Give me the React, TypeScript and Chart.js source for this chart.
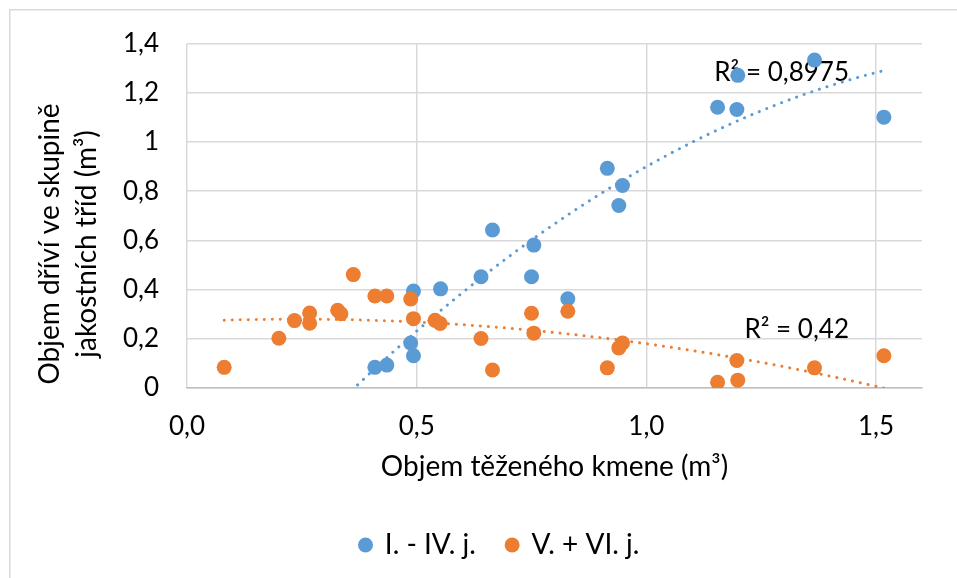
import React, { useEffect, useRef } from 'react';
import { Chart, registerables } from 'chart.js';

Chart.register(...registerables);

// ---- Data ----
const seriesNames = ['I. - IV. j.', 'V. + VI. j.'];

const blueX = [0.409, 0.435, 0.487, 0.493, 0.493, 0.552, 0.640, 0.665, 0.750, 0.755, 0.829, 0.915, 0.940, 0.948, 1.155, 1.197, 1.199, 1.366, 1.517];
const blueY = [0.084, 0.093, 0.183, 0.131, 0.394, 0.403, 0.452, 0.642, 0.452, 0.581, 0.363, 0.893, 0.742, 0.823, 1.141, 1.132, 1.271, 1.333, 1.101];

const orangeX = [0.081, 0.200, 0.234, 0.267, 0.267, 0.328, 0.335, 0.362, 0.409, 0.435, 0.487, 0.493, 0.540, 0.551, 0.640, 0.665, 0.750, 0.755, 0.829, 0.915, 0.940, 0.948, 1.155, 1.197, 1.199, 1.366, 1.517];
const orangeY = [0.084, 0.202, 0.274, 0.305, 0.263, 0.316, 0.302, 0.461, 0.374, 0.374, 0.362, 0.282, 0.275, 0.262, 0.201, 0.073, 0.304, 0.223, 0.312, 0.082, 0.163, 0.183, 0.023, 0.112, 0.032, 0.082, 0.131];

const r2Labels = ['R\u00B2 = 0,8975', 'R\u00B2 = 0,42'];

const xTickValues = [0, 0.5, 1.0, 1.5];
const xTickLabels = ['0,0', '0,5', '1,0', '1,5'];
const yTickValues = [0, 0.2, 0.4, 0.6, 0.8, 1.0, 1.2, 1.4];
const yTickLabels = ['0', '0,2', '0,4', '0,6', '0,8', '1', '1,2', '1,4'];

const xTitle = 'Objem těženého kmene (m\u00B3)';
const yTitleLines = ['Objem dříví ve skupině', 'jakostních tříd (m\u00B3)'];

// ---- Styles ----
const BLUE = '#5B9BD5';
const ORANGE = '#ED7D31';
const FONT = 'Lato';
const FS_TICK = 26;
const FS_TITLE = 28;

// quadratic least-squares fit (Excel polynomial trendline, order 2)
function polyFit2(xs: number[], ys: number[]) {
  let s0 = 0, s1 = 0, s2 = 0, s3 = 0, s4 = 0, t0 = 0, t1 = 0, t2 = 0;
  for (let i = 0; i < xs.length; i++) {
    const x = xs[i], y = ys[i];
    s0 += 1; s1 += x; s2 += x * x; s3 += x * x * x; s4 += x * x * x * x;
    t0 += y; t1 += x * y; t2 += x * x * y;
  }
  const M = [
    [s0, s1, s2, t0],
    [s1, s2, s3, t1],
    [s2, s3, s4, t2],
  ];
  for (let c = 0; c < 3; c++) {
    let p = c;
    for (let r = c + 1; r < 3; r++) if (Math.abs(M[r][c]) > Math.abs(M[p][c])) p = r;
    [M[c], M[p]] = [M[p], M[c]];
    for (let r = 0; r < 3; r++) {
      if (r === c) continue;
      const f = M[r][c] / M[c][c];
      for (let k = c; k < 4; k++) M[r][k] -= f * M[c][k];
    }
  }
  return [M[0][3] / M[0][0], M[1][3] / M[1][1], M[2][3] / M[2][2]];
}

function trendPoints(xs: number[], ys: number[], x0: number, x1: number) {
  const [a, b, c] = polyFit2(xs, ys);
  const pts: { x: number; y: number }[] = [];
  const n = 120;
  for (let i = 0; i <= n; i++) {
    const x = x0 + ((x1 - x0) * i) / n;
    pts.push({ x, y: a + b * x + c * x * x });
  }
  return pts;
}

const allMinX = Math.min(...blueX, ...orangeX);

const decorPlugin = {
  id: 'decor',
  beforeDraw(chart: any) {
    const ctx = chart.ctx;
    ctx.save();
    ctx.strokeStyle = '#d9d9d9';
    ctx.lineWidth = 1.5;
    ctx.beginPath();
    ctx.moveTo(9.75, chart.height);
    ctx.lineTo(9.75, 9.75);
    ctx.lineTo(chart.width, 9.75);
    ctx.stroke();
    ctx.restore();
  },
  beforeDatasetsDraw(chart: any) {
    const ctx = chart.ctx;
    const xs = chart.scales.x;
    const ys = chart.scales.y;
    const anchors = [
      { x: 1.441, y: 1.246 },
      { x: 1.441, y: 0.2035 },
    ];
    ctx.save();
    ctx.fillStyle = '#000';
    ctx.font = `${FS_TICK}px ${FONT}`;
    ctx.textAlign = 'right';
    ctx.textBaseline = 'alphabetic';
    r2Labels.forEach((t, i) => {
      ctx.fillText(t, xs.getPixelForValue(anchors[i].x), ys.getPixelForValue(anchors[i].y));
    });
    ctx.restore();
  },
  afterDraw(chart: any) {
    const ctx = chart.ctx;
    ctx.save();
    ctx.fillStyle = '#000';
    ctx.font = `${FS_TITLE}px ${FONT}`;
    ctx.textAlign = 'center';
    ctx.textBaseline = 'middle';
    const centers = [50, 87];
    yTitleLines.forEach((t, i) => {
      ctx.save();
      ctx.translate(centers[i], 244);
      ctx.rotate(-Math.PI / 2);
      ctx.fillText(t, 0, 0);
      ctx.restore();
    });
    ctx.restore();
  },
};

export default function App() {
  const ref = useRef<HTMLCanvasElement | null>(null);

  useEffect(() => {
    if (!ref.current) return;
    Chart.defaults.font.family = FONT;
    const chart = new Chart(ref.current, {
      type: 'scatter',
      data: {
        datasets: [
          {
            label: seriesNames[0],
            data: blueX.map((x, i) => ({ x, y: blueY[i] })),
            backgroundColor: BLUE,
            borderColor: BLUE,
            borderWidth: 0,
            pointRadius: 7.5,
            pointHoverRadius: 7.5,
            order: 2,
          },
          {
            label: seriesNames[1],
            data: orangeX.map((x, i) => ({ x, y: orangeY[i] })),
            backgroundColor: ORANGE,
            borderColor: ORANGE,
            borderWidth: 0,
            pointRadius: 7.5,
            pointHoverRadius: 7.5,
            order: 1,
          },
          {
            label: 'trend1',
            type: 'line',
            data: trendPoints(blueX, blueY, allMinX, Math.max(...blueX)),
            borderColor: BLUE,
            borderWidth: 3,
            borderDash: [0.01, 8],
            borderCapStyle: 'round',
            pointRadius: 0,
            fill: false,
            tension: 0,
            clip: 0,
            order: 3,
          } as any,
          {
            label: 'trend2',
            type: 'line',
            data: trendPoints(orangeX, orangeY, Math.min(...orangeX), Math.max(...orangeX)),
            borderColor: ORANGE,
            borderWidth: 3,
            borderDash: [0.01, 8],
            borderCapStyle: 'round',
            pointRadius: 0,
            fill: false,
            tension: 0,
            clip: 0,
            order: 4,
          } as any,
        ],
      },
      options: {
        animation: false,
        responsive: false,
        events: [],
        layout: { padding: { left: 77.6, top: 42, right: 35, bottom: 9 } },
        scales: {
          x: {
            type: 'linear',
            min: 0,
            max: 1.6,
            afterBuildTicks: (s: any) => {
              s.ticks = xTickValues.map((v) => ({ value: v }));
            },
            afterFit: (s: any) => {
              s.height = 112;
            },
            ticks: {
              padding: 23,
              color: '#000',
              font: { size: FS_TICK, family: FONT },
              maxRotation: 0,
              callback: (_v: any, i: number) => xTickLabels[i],
            },
            grid: { color: '#d9d9d9', lineWidth: 1.5, drawTicks: false },
            border: { display: true, color: '#bfbfbf', width: 1.5 },
            title: {
              display: true,
              text: xTitle,
              color: '#000',
              font: { size: FS_TITLE, family: FONT },
              padding: { top: 0, bottom: 16 },
            },
          },
          y: {
            type: 'linear',
            min: 0,
            max: 1.4,
            afterBuildTicks: (s: any) => {
              s.ticks = yTickValues.map((v) => ({ value: v }));
            },
            afterFit: (s: any) => {
              s.width = 109.4;
            },
            ticks: {
              padding: 28,
              color: '#000',
              font: { size: FS_TICK, family: FONT },
              callback: (_v: any, i: number) => yTickLabels[i],
            },
            grid: { color: '#d9d9d9', lineWidth: 1.5, drawTicks: false },
            border: { display: false },
          },
        },
        plugins: {
          legend: {
            display: true,
            position: 'bottom',
            labels: {
              usePointStyle: true,
              pointStyle: 'circle',
              boxWidth: 10.6,
              boxHeight: 10.6,
              padding: 31,
              color: '#000',
              font: { size: FS_TITLE, family: FONT },
              filter: (item: any) => item.datasetIndex < 2,
              sort: (a: any, b: any) => a.datasetIndex - b.datasetIndex,
            },
          },
          tooltip: { enabled: false },
        },
      } as any,
      plugins: [decorPlugin],
    });
    return () => chart.destroy();
  }, []);

  return (
    <div style={{ position: 'fixed', left: 0, top: 0, width: 957, height: 578, background: '#fff' }}>
      <canvas ref={ref} width={957} height={578} style={{ display: 'block' }} />
    </div>
  );
}
